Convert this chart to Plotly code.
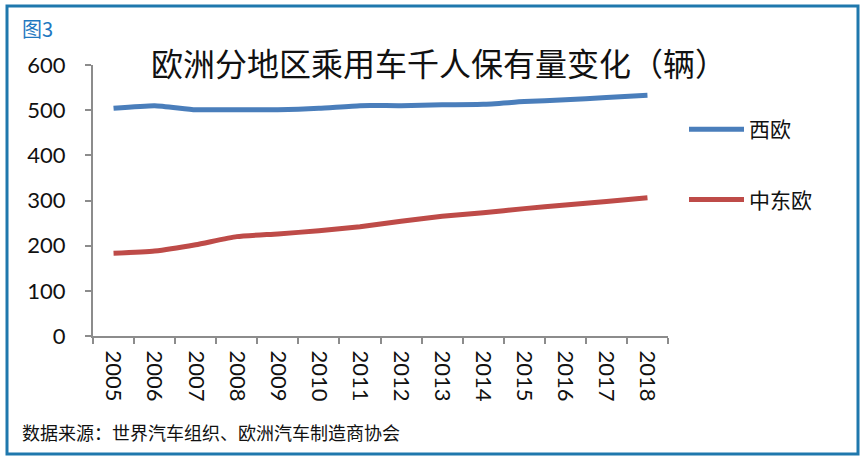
import plotly.graph_objects as go

years = ["2005", "2006", "2007", "2008", "2009", "2010", "2011", "2012", "2013", "2014", "2015", "2016", "2017", "2018"]
west = [504, 510, 501, 501, 501, 504, 510, 510, 512, 513, 519, 523, 528, 533]
central_east = [183, 188, 202, 220, 226, 233, 242, 254, 265, 273, 282, 290, 298, 306]
y_ticks = [0, 100, 200, 300, 400, 500, 600]

W, H = 865, 462
L, R, T, B = 93, 668, 65, 336

def px(x):
    return (x - L) / (R - L)

def py(y):
    return (B - y) / (B - T)

NUM_FONT = "Lato, 'Noto Sans', sans-serif"
CJK_FONT = "'Noto Sans CJK SC', sans-serif"

fig = go.Figure()
fig.add_trace(go.Scatter(x=years, y=west, name="西欧", mode="lines",
                         line=dict(color="#4a7ebb", width=5, shape="spline", smoothing=0.5),
                         legendgroup="a"))
fig.add_trace(go.Scatter(x=years, y=central_east, name="中东欧", mode="lines",
                         line=dict(color="#be4b48", width=5, shape="spline", smoothing=0.5),
                         legendgroup="b"))

fig.update_layout(
    width=W, height=H,
    margin=dict(l=L, r=W - R, t=T, b=H - B),
    paper_bgcolor="white", plot_bgcolor="white",
    showlegend=True,
    legend=dict(x=px(684), y=py(109), xanchor="left", yanchor="top",
                font=dict(family=CJK_FONT, size=21, color="#111"),
                tracegroupgap=40, itemwidth=55, bgcolor="rgba(0,0,0,0)"),
    xaxis=dict(type="category", categoryorder="array", categoryarray=years,
               range=[-0.5, 13.5], showline=True, linecolor="#8c8c8c", linewidth=2,
               ticks="outside", tickson="boundaries", ticklen=6, tickwidth=2, tickcolor="#8c8c8c",
               tickangle=90, showgrid=False, zeroline=False, ticklabelstandoff=8,
               tickfont=dict(family=NUM_FONT, size=22, color="#111")),
    yaxis=dict(range=[0, 600], tickvals=y_ticks, showline=True, linecolor="#8c8c8c", linewidth=2,
               ticks="outside", ticklen=6, tickwidth=2, tickcolor="#8c8c8c",
               showgrid=False, zeroline=False, ticklabelstandoff=15,
               tickfont=dict(family=NUM_FONT, size=22, color="#111")),
)

fig.add_shape(type="rect", xref="paper", yref="paper",
              x0=px(7), x1=px(858), y0=py(454), y1=py(6),
              line=dict(color="#1f78ad", width=3), fillcolor="rgba(0,0,0,0)", layer="below")

fig.add_annotation(xref="paper", yref="paper", x=px(20), y=py(28), xanchor="left", yanchor="middle",
                   text="图3", showarrow=False,
                   font=dict(family=CJK_FONT, size=20, color="#1f78c0"))
fig.add_annotation(xref="paper", yref="paper", x=px(439), y=py(62), xanchor="center", yanchor="middle",
                   text="欧洲分地区乘用车千人保有量变化（辆）", showarrow=False,
                   font=dict(family=CJK_FONT, size=32, color="#111"))
fig.add_annotation(xref="paper", yref="paper", x=px(20), y=py(432), xanchor="left", yanchor="middle",
                   text="数据来源：世界汽车组织、欧洲汽车制造商协会", showarrow=False,
                   font=dict(family=CJK_FONT, size=18, color="#111"))

fig.write_html("out.html", config={"displayModeBar": False},
               post_script="document.body.style.margin='0';")
